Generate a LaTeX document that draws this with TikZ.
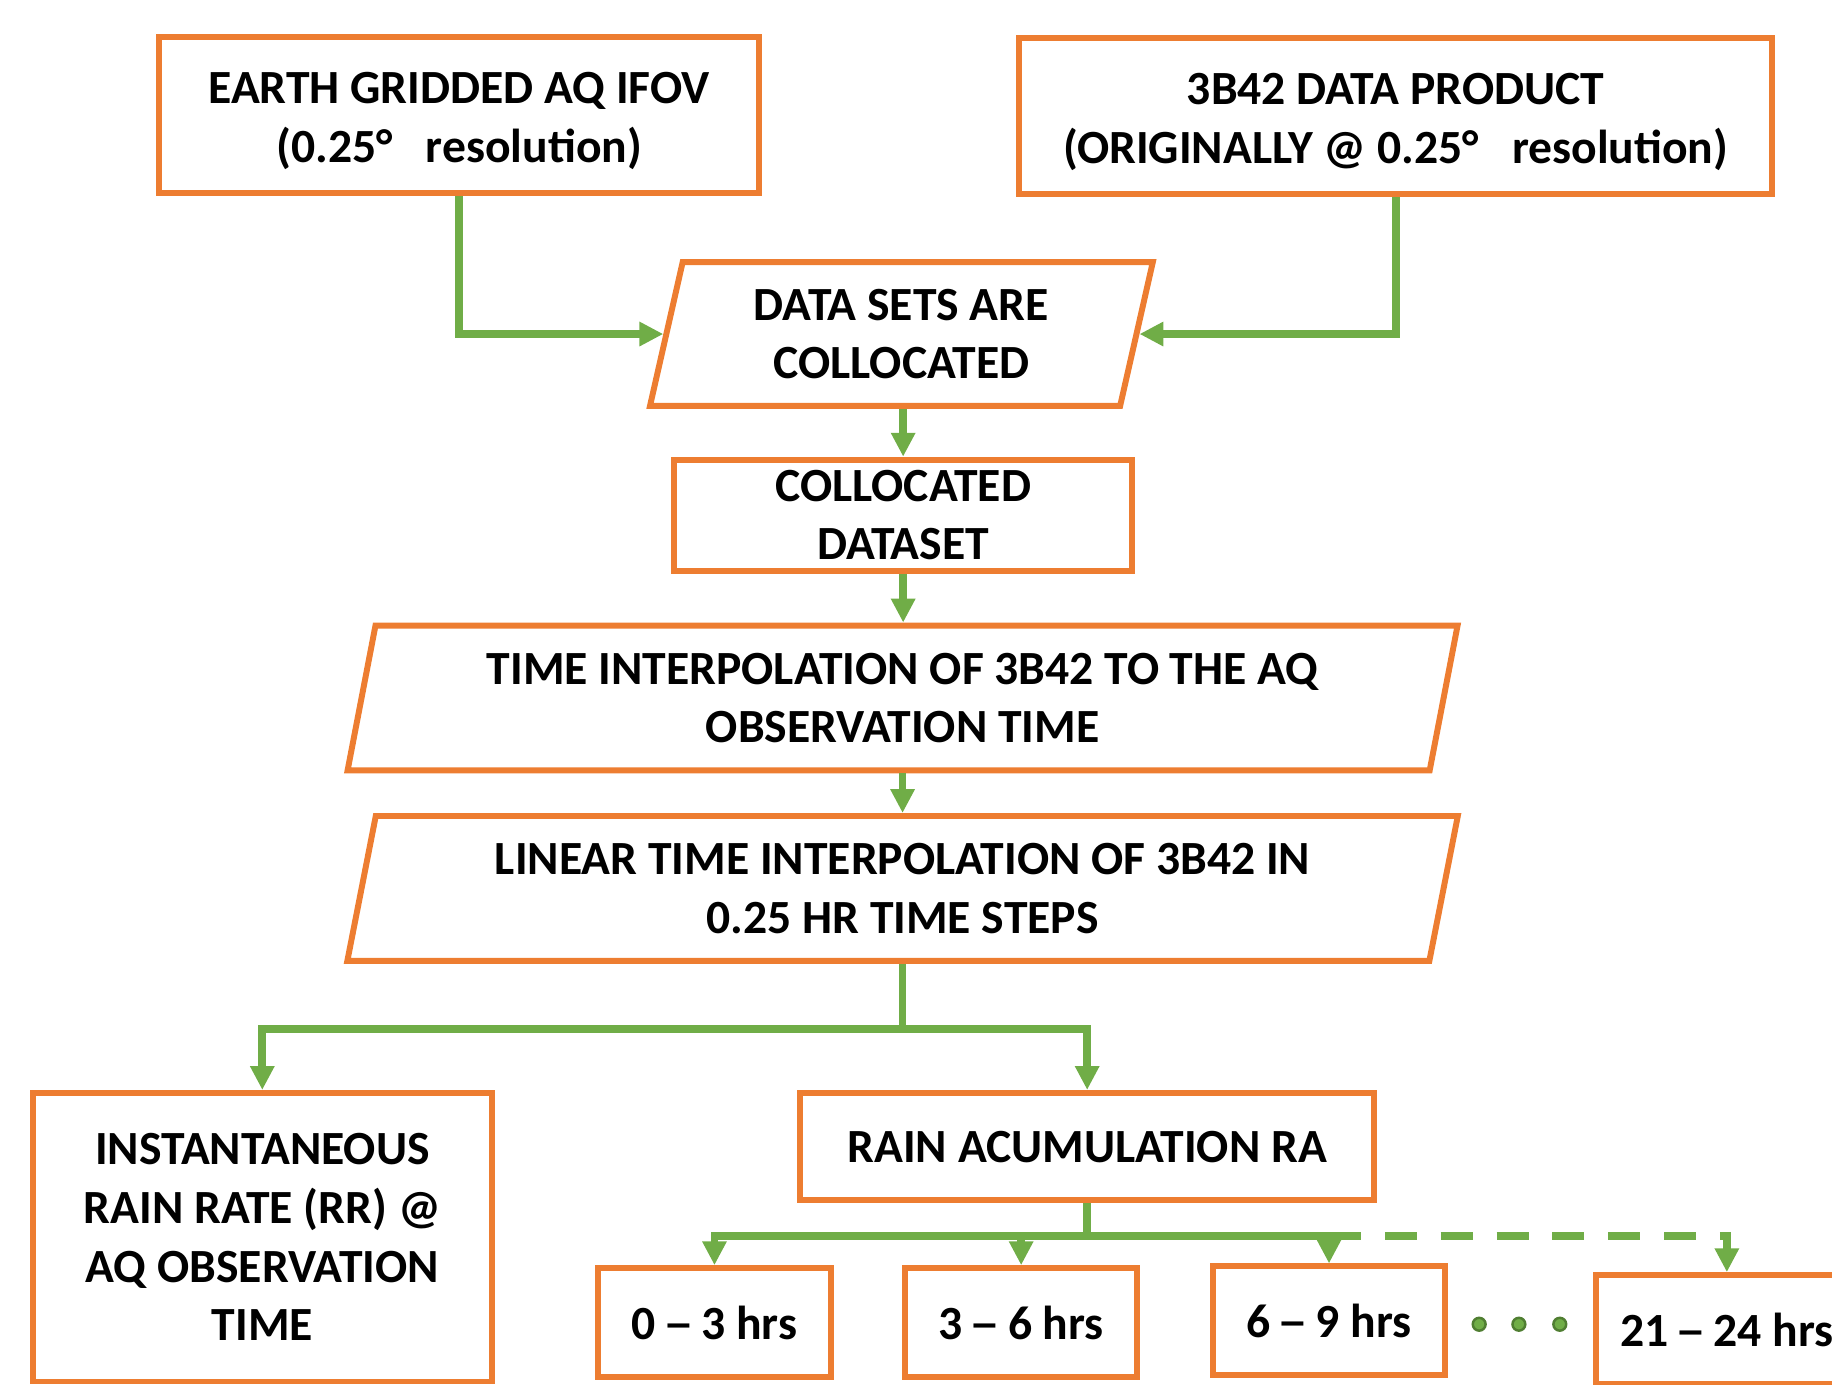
\documentclass[tikz,border=0pt]{standalone}
\usepackage{fontspec}
\setmainfont{Carlito}
\usetikzlibrary{arrows.meta,shapes.geometric}

\definecolor{boxorange}{HTML}{ED7D31}
\definecolor{flowgreen}{HTML}{70AD47}
\definecolor{dotgreen}{HTML}{507E32}
\newcommand{\spandash}{\makebox[0.5em]{\scalebox{1.3}[1]{–}}}

\begin{document}
\begin{tikzpicture}[>={Triangle[width=5.6pt,length=5.8pt]},
	every node/.style={font=\fontsize{11.6}{14.3}\selectfont\bfseries,align=center},
	block/.style={draw=boxorange,line width=1.45pt,rectangle,inner sep=0pt},
	slanted/.style={draw=boxorange,line width=1.45pt,trapezium,trapezium left angle=76.3,
		trapezium right angle=103.7,trapezium stretches=true,inner sep=0pt},
	hrsbox/.style={block,minimum width=1.99cm,minimum height=0.93cm},
	flow/.style={draw=flowgreen,line width=1.9pt}]
	\useasboundingbox (0,0) rectangle (15.68,11.854);

	\node[block,minimum width=5.14cm,minimum height=1.34cm] (grid) at (3.93,10.87)
		{\rule{0pt}{10.5pt}EARTH GRIDDED AQ IFOV\\(0.25°\hspace{0.7em}resolution)};
	\node[block,minimum width=6.45cm,minimum height=1.34cm] (trmm) at (11.945,10.86)
		{\rule{0pt}{10.5pt}3B42 DATA PRODUCT\\(ORIGINALLY @ 0.25°\hspace{0.7em}resolution)};
	\node[slanted,minimum width=4.31cm,minimum height=1.23cm] (coll) at (7.715,8.995)
		{DATA SETS ARE\\COLLOCATED};
	\node[block,minimum width=3.92cm,minimum height=0.95cm] (cset) at (7.73,7.445)
		{COLLOCATED\\DATASET};
	\node[slanted,minimum width=9.51cm,minimum height=1.24cm] (tint) at (7.725,5.88)
		{TIME INTERPOLATION OF 3B42 TO THE AQ\\OBSERVATION TIME};
	\node[slanted,minimum width=9.51cm,minimum height=1.24cm] (lint) at (7.725,4.25)
		{LINEAR TIME INTERPOLATION OF 3B42 IN\\0.25 HR TIME STEPS};
	\node[block,minimum width=3.93cm,minimum height=2.47cm] (rrate) at (2.245,1.265)
		{INSTANTANEOUS\\RAIN RATE (RR) @\\AQ OBSERVATION\\TIME};
	\node[block,minimum width=4.91cm,minimum height=0.92cm] (racc) at (9.305,2.04)
		{RAIN ACUMULATION RA};
	\node[hrsbox] (h1) at (6.115,0.535) {0 \spandash{} 3 hrs};
	\node[hrsbox] (h2) at (8.74,0.535) {3 \spandash{} 6 hrs};
	\node[hrsbox] (h3) at (11.375,0.55) {6 \spandash{} 9 hrs};
	\node[hrsbox,minimum width=2.24cm] (h8) at (14.78,0.475) {21 \spandash{} 24 hrs};

	% dots between the time boxes
	\foreach \x in {12.66,13.00,13.35}
		\draw[dotgreen,fill=flowgreen,line width=0.6pt] (\x,0.52) circle (0.055);

	\draw[flow,->] (grid.south) |- (coll.west);
	\draw[flow,->] (trmm.south) |- (coll.east);
	\draw[flow,->] (coll.south -| cset.north) -- (cset.north);
	\draw[flow,->] (cset.south) -- (cset.south |- tint.north);
	\draw[flow,->] (tint.south -| tint.center) -- (tint.center |- lint.north);
	\draw[flow] (lint.south -| lint.center) -- ++(0,-0.56) coordinate (fork);
	\draw[flow,->] (fork) -| (rrate.north);
	\draw[flow,->] (fork) -| (racc.north);
	\draw[flow] (racc.south) -- ++(0,-0.28) coordinate (fork2);
	\foreach \n in {h1,h2,h3}
		\draw[flow,->] (fork2) -| (\n.north);
	\draw[flow,->,dash pattern=on 7.8pt off 5.8pt] (h3.north |- fork2) -| (h8.north);
\end{tikzpicture}
\end{document}
